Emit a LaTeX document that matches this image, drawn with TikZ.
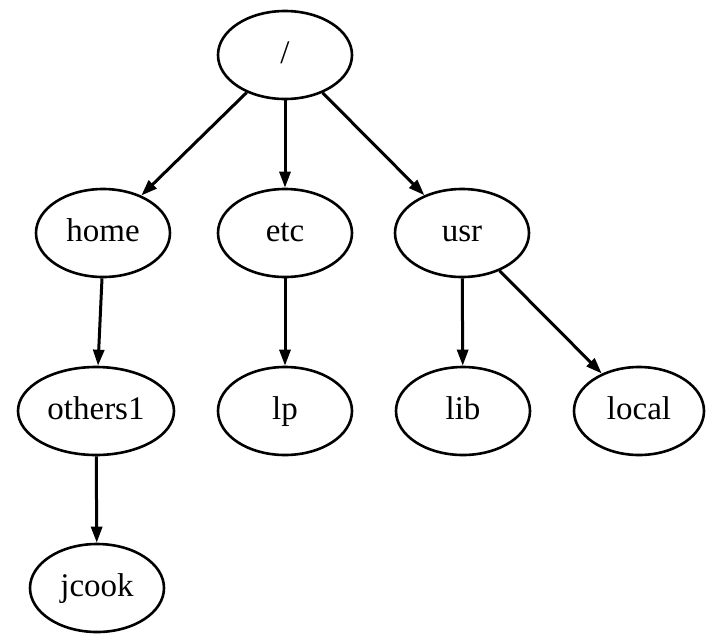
\documentclass[tikz,border=0pt]{standalone}
\usepackage{fontspec}
\setmainfont{Liberation Serif}
\usetikzlibrary{shapes.geometric,arrows.meta}
\begin{document}
\begin{tikzpicture}[x=1pt,y=-1pt,
  dnode/.style={draw,line width=2.6pt,ellipse,minimum width=134pt,minimum height=88pt,inner sep=0pt,text height=16pt,text depth=0pt,font=\fontsize{33}{36}\selectfont},
  edge/.style={line width=3pt,-{Triangle[length=16pt,width=11pt]}}]
\useasboundingbox (0,0) rectangle (712,635);
\node[dnode] (root) at (285,55) {/};
\node[dnode] (home) at (103,233) {home};
\node[dnode] (etc) at (285,233) {etc};
\node[dnode] (usr) at (462,233) {usr};
\node[dnode,minimum width=156pt] (others) at (96,411) {others1};
\node[dnode] (lp) at (285,411) {lp};
\node[dnode] (lib) at (463,411) {lib};
\node[dnode,minimum width=130pt] (local) at (639,411) {local};
\node[dnode] (jcook) at (97,588) {jcook};
\draw[edge] (root) -- (home);
\draw[edge] (root) -- (etc);
\draw[edge] (root) -- (usr);
\draw[edge] ([xshift=-1pt]home.south) -- ([xshift=2pt]others.north);
\draw[edge] (etc) -- (lp);
\draw[edge] (usr) -- (lib);
\draw[edge] (usr) -- (local);
\draw[edge] (others) -- (jcook);
\end{tikzpicture}
\end{document}
